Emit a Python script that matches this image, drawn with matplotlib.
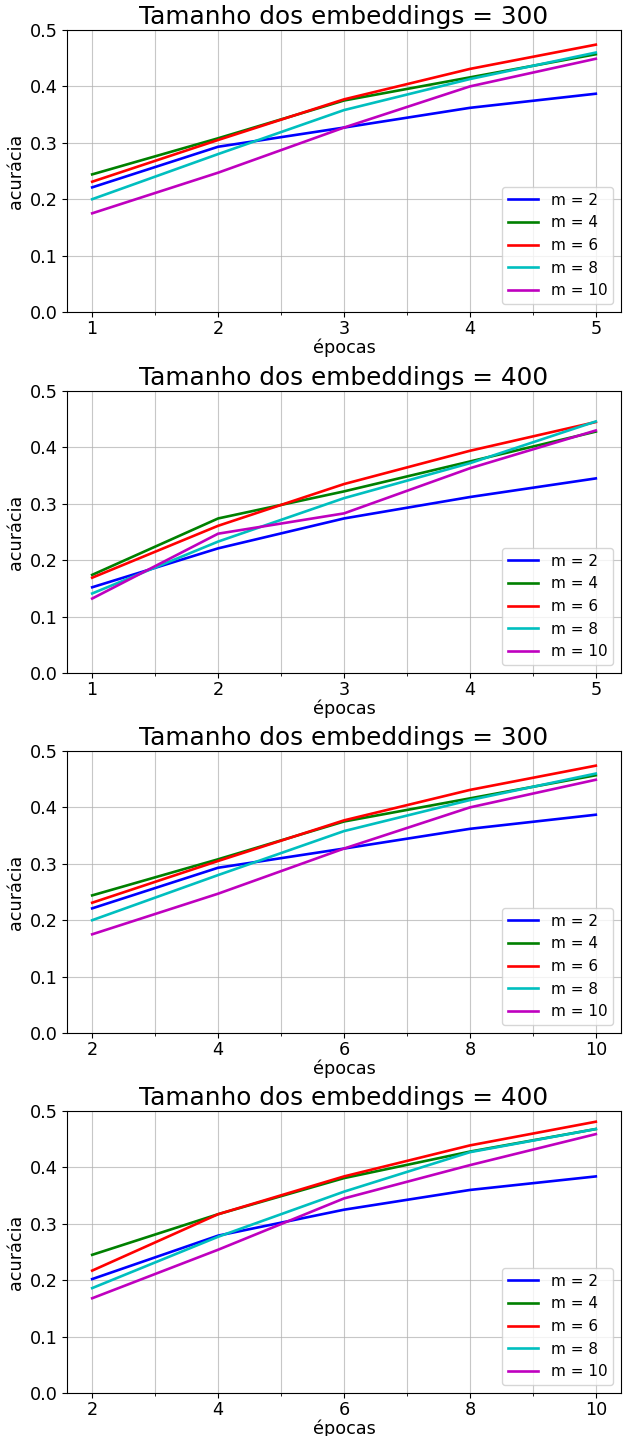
import matplotlib
matplotlib.use('Agg')
import matplotlib.pyplot as plt
from matplotlib.ticker import MultipleLocator

# accuracy per epoch, one list per m value
labels = ['m = 2', 'm = 4', 'm = 6', 'm = 8', 'm = 10']
colors = ['b', 'g', 'r', 'c', 'm']

epochs_a = [1, 2, 3, 4, 5]
epochs_b = [2, 4, 6, 8, 10]

acc_300 = [
    [0.221, 0.293, 0.327, 0.362, 0.387],
    [0.244, 0.308, 0.375, 0.416, 0.457],
    [0.231, 0.305, 0.377, 0.431, 0.474],
    [0.200, 0.280, 0.358, 0.413, 0.460],
    [0.175, 0.247, 0.327, 0.400, 0.449],
]

acc_400 = [
    [0.152, 0.221, 0.274, 0.312, 0.345],
    [0.174, 0.274, 0.322, 0.375, 0.428],
    [0.169, 0.261, 0.335, 0.394, 0.445],
    [0.141, 0.233, 0.310, 0.372, 0.446],
    [0.132, 0.247, 0.283, 0.363, 0.430],
]

acc_400b = [
    [0.202, 0.279, 0.325, 0.360, 0.384],
    [0.245, 0.317, 0.381, 0.428, 0.468],
    [0.217, 0.317, 0.384, 0.439, 0.481],
    [0.186, 0.277, 0.357, 0.427, 0.468],
    [0.168, 0.254, 0.345, 0.404, 0.459],
]

panels = [
    ('Tamanho dos embeddings = 300', epochs_a, acc_300, 0.5),
    ('Tamanho dos embeddings = 400', epochs_a, acc_400, 0.5),
    ('Tamanho dos embeddings = 300', epochs_b, acc_300, 1),
    ('Tamanho dos embeddings = 400', epochs_b, acc_400b, 1),
]

W, H = 623, 1436
fig = plt.figure(figsize=(W / 100, H / 100), dpi=100)

tops = [30, 391, 751, 1111]
ax_h = 282
left, right = 67, 621

for (title, xs, data, minor), top in zip(panels, tops):
    ax = fig.add_axes([left / W, 1 - (top + ax_h) / H, (right - left) / W, ax_h / H])
    for ys, lab, c in zip(data, labels, colors):
        ax.plot(xs, ys, color=c, linewidth=1.9, label=lab)
    ax.set_ylim(0, 0.5)
    ax.set_yticks([0.0, 0.1, 0.2, 0.3, 0.4, 0.5])
    ax.set_xticks(xs)
    ax.xaxis.set_minor_locator(MultipleLocator(minor))
    ax.grid(which='both', color='#b0b0b0', linewidth=0.8, alpha=0.7)
    ax.tick_params(labelsize=12.7)
    ax.tick_params(axis='x', pad=2.5)
    ax.set_title(title, fontsize=17.8, pad=4)
    ax.set_xlabel('épocas', fontsize=12.7, labelpad=0)
    ax.set_ylabel('acurácia', fontsize=12.7, labelpad=3)
    ax.legend(loc='lower right', fontsize=11)

fig.savefig('out.png', dpi=100)
